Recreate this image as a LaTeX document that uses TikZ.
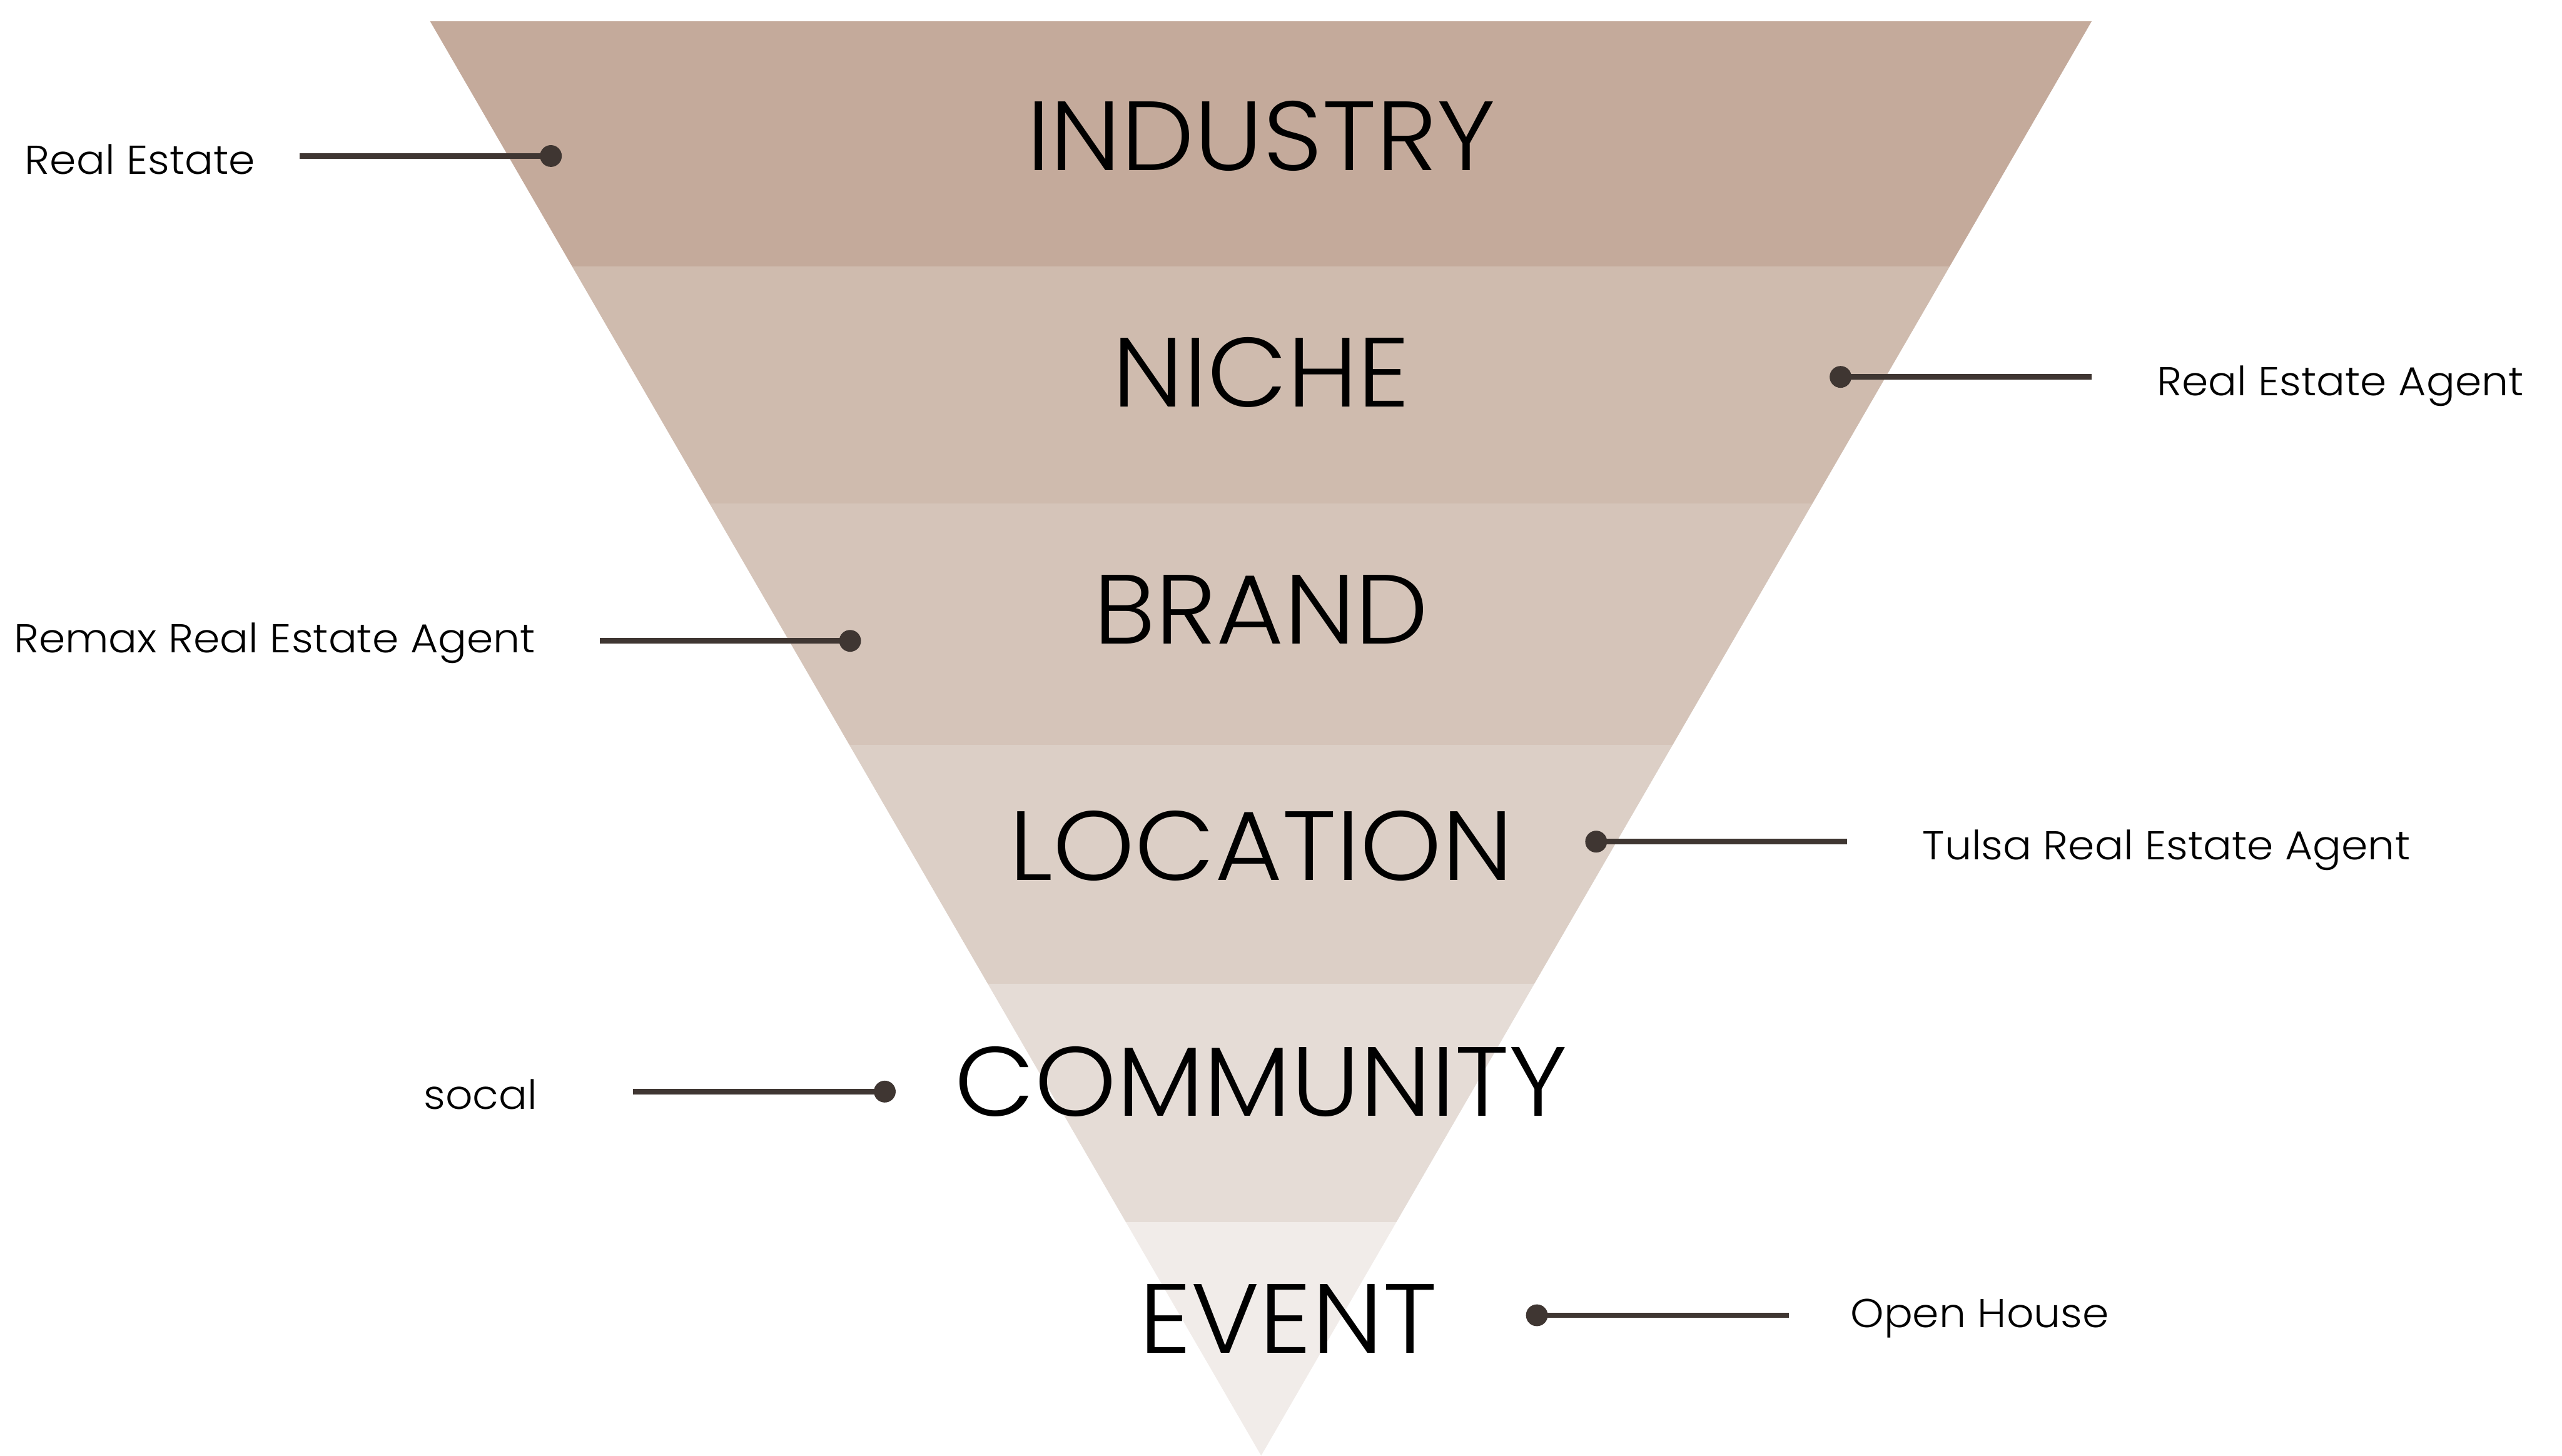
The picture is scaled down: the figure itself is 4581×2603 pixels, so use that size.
\documentclass[tikz,border=0pt]{standalone}
\usepackage{fontspec}
\setmainfont{Poppins}[UprightFont=* Light, FakeStretch=1.055]
\definecolor{bandA}{HTML}{C4AA9B}
\definecolor{bandB}{HTML}{CFBBAE}
\definecolor{bandC}{HTML}{D5C4B9}
\definecolor{bandD}{HTML}{DCCFC6}
\definecolor{bandE}{HTML}{E5DCD6}
\definecolor{bandF}{HTML}{F1ECE9}
\definecolor{pinc}{HTML}{3F3632}
\begin{document}
\begin{tikzpicture}[x=0.01cm,y=-0.01cm,
  tier/.style={font=\fontsize{50}{50}\selectfont, text=black, inner sep=0pt},
  note/.style={font=\fontsize{20.5}{20.5}\selectfont, text=black, inner sep=0pt, anchor=base west},
  pin/.style={line width=2.85pt, draw=pinc},
  pinhead/.style={circle, fill=pinc, minimum size=0.39cm, inner sep=0pt}
]
\useasboundingbox (0,0) rectangle (4581,2603);

% inverted funnel, cut into six horizontal tiers
\begin{scope}
  \clip (769,38) -- (3740,38) -- (2255,2603) -- cycle;
  \fill[bandA] (0,38)   rectangle (4581,476);
  \fill[bandB] (0,476)  rectangle (4581,900);
  \fill[bandC] (0,900)  rectangle (4581,1332);
  \fill[bandD] (0,1332) rectangle (4581,1759);
  \fill[bandE] (0,1759) rectangle (4581,2185);
  \fill[bandF] (0,2185) rectangle (4581,2610);
\end{scope}

% tier titles
\node[tier] (industry)  at (2255,243)  {INDUSTRY};
\node[tier] (niche)     at (2255,666)  {NICHE};
\node[tier] (brand)     at (2255,1090) {BRAND};
\node[tier] (location)  at (2255,1513) {LOCATION};
\node[tier] (community) at (2255,1934) {COMMUNITY};
\node[tier] (event)     at (2303,2358) {EVENT};

% side notes
\node[note] (n1) at (44,311)    {Real Estate};
\node[note] (n2) at (3856,707)  {Real Estate Agent};
\node[note] (n3) at (24,1167)   {Remax Real Estate Agent};
\node[note] (n4) at (3437,1537) {Tulsa Real Estate Agent};
\node[note] (n5) at (757,1983)  {socal};
\node[note] (n6) at (3308,2374) {Open House};

% pins
\node[pinhead] (d1) at (985,279)   {};
\node[pinhead] (d2) at (3291,674)  {};
\node[pinhead] (d3) at (1520,1146) {};
\node[pinhead] (d4) at (2854,1505) {};
\node[pinhead] (d5) at (1582,1952) {};
\node[pinhead] (d6) at (2748,2352) {};

\coordinate (e1) at (536,279);
\coordinate (e2) at (3740,674);
\coordinate (e3) at (1072,1146);
\coordinate (e4) at (3303,1505);
\coordinate (e5) at (1132,1952);
\coordinate (e6) at (3199,2352);

\draw[pin] (e1) -- (d1.center);
\draw[pin] (e2) -- (d2.center);
\draw[pin] (e3) -- (d3.center);
\draw[pin] (e4) -- (d4.center);
\draw[pin] (e5) -- (d5.center);
\draw[pin] (e6) -- (d6.center);
\end{tikzpicture}
\end{document}
